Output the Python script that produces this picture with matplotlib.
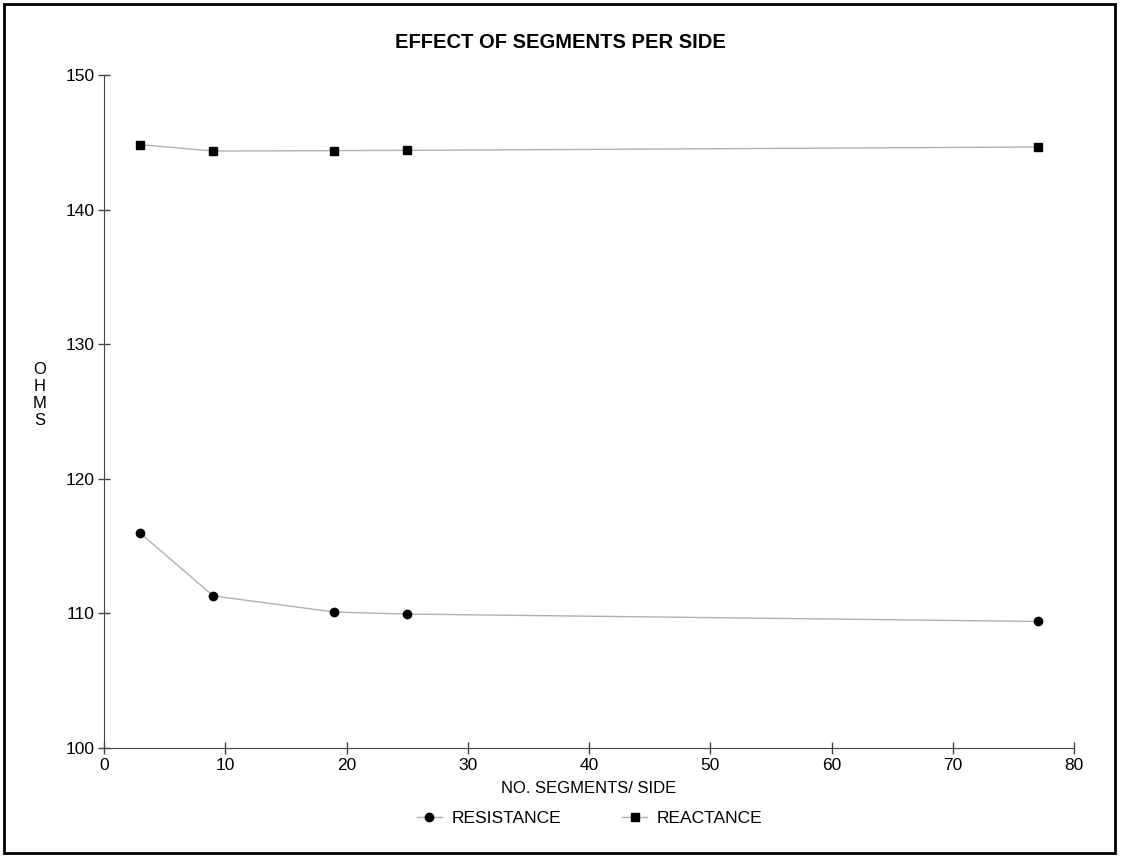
import matplotlib.pyplot as plt
from matplotlib.patches import Rectangle

plt.rcParams['font.family'] = ['Liberation Sans', 'DejaVu Sans']

segments = [3, 9, 19, 25, 77]
resistance = [115.95, 111.3, 110.1, 109.95, 109.4]
reactance = [144.82, 144.35, 144.38, 144.4, 144.65]

fig = plt.figure(figsize=(11.21, 8.57), dpi=100)
ax = fig.add_axes([0.0928, 0.1272, 0.8653, 0.7853])

ax.plot(segments, resistance, color='#b0b0b0', lw=1, marker='o', ms=6,
        mfc='black', mec='black', label='RESISTANCE')
ax.plot(segments, reactance, color='#b0b0b0', lw=1, marker='s', ms=5.5,
        mfc='black', mec='black', label='REACTANCE')

ax.set_xlim(0, 80)
ax.set_ylim(100, 150)
ax.set_xticks(range(0, 81, 10))
ax.set_yticks(range(100, 151, 10))
ax.spines['top'].set_visible(False)
ax.spines['right'].set_visible(False)
ax.spines['left'].set_color('#444444')
ax.spines['bottom'].set_color('#444444')
ax.tick_params(direction='inout', length=8, width=1, labelsize=12.5,
               color='#444444', pad=3)

fig.text(0.5, 1 - 43 / 857, 'EFFECT OF SEGMENTS PER SIDE', ha='center',
         va='center', fontsize=14.5, fontweight='bold')
ax.set_xlabel('NO. SEGMENTS/ SIDE', fontsize=12, labelpad=6)
fig.text(40 / 1121, 1 - 395 / 857, 'O\nH\nM\nS', ha='center', va='center',
         fontsize=12, linespacing=1.15)

fig.legend(loc='center', bbox_to_anchor=(590 / 1121, 1 - 818 / 857), ncol=2,
           frameon=False, fontsize=12.5, handlelength=1.4, handletextpad=0.6,
           columnspacing=3.5)

fig.add_artist(Rectangle((0.004, 0.005), 0.991, 0.99, transform=fig.transFigure,
                         fill=False, edgecolor='black', lw=2))

fig.savefig('out.png', dpi=100)
